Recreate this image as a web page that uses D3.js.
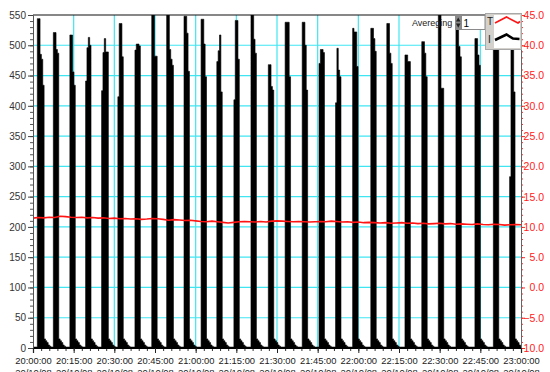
<!DOCTYPE html>
<html>
<head>
<meta charset="utf-8">
<script src="https://cdn.jsdelivr.net/npm/d3@7"></script>
<style>
  html, body { margin: 0; padding: 0; background: #ffffff; }
  svg { display: block; font-family: "Liberation Sans", Arial, sans-serif; }
</style>
</head>
<body>
<svg id="chart" width="550" height="372"></svg>
<script>
// ---- Pump current (I): each cycle's start (minutes after 20:00) and its 30 s samples ----
const cycleStarts = [1.6, 7.5, 13.6, 19.4, 25.3, 31.3, 37.6, 43.8, 49.3, 55.7,
                     62.0, 67.8, 74.1, 80.4, 86.8, 93.0, 99.3, 105.5, 111.6, 117.9,
                     124.6, 130.5, 137.2, 143.4, 149.5, 156.0, 163.0, 169.8, 175.8];
const cycleProfiles = [
  [544, 544, 485, 477, 434],
  [521, 521, 493, 487],
  [517, 517, 456, 434],
  [441, 496, 513, 500],
  [425, 488, 511, 489, 489],
  [415, 536, 536, 481],
  [492, 502, 502, 499],
  [565, 565, 482, 482],
  [565, 565, 493, 477, 467],
  [548, 548, 520, 457],
  [543, 543, 502, 448],
  [473, 491, 517, 423],
  [410, 541, 541, 477],
  [565, 565, 510, 487],
  [468, 468, 432, 426],
  [538, 538, 538, 448],
  [538, 538, 500, 426],
  [470, 493, 493, 488],
  [405, 495, 459, 448],
  [528, 522, 522, 465],
  [528, 528, 511, 490],
  [536, 536, 487, 470],
  [484, 484, 473, 473],
  [506, 506, 487, 448],
  [565, 565, 429, 429],
  [565, 565, 498, 481],
  [511, 511, 484, 467],
  [545, 545, 520, 505],
  [283, 540, 540, 423]
];
const tailProfile = [15, 12, 9, 5, 3];   // run-down after each pumping burst
const idleLevel = 1.5;
const sampleStep = 0.5;                  // minutes between samples

// ---- Temperature (T), one reading every 2 minutes ----
const tempStep = 2;
const tempValues = [
  11.45, 11.55, 11.5, 11.6, 11.55, 11.75, 11.7, 11.6, 11.55, 11.6,
  11.5, 11.55, 11.45, 11.5, 11.4, 11.45, 11.35, 11.4, 11.3, 11.35,
  11.25, 11.3, 11.4, 11.35, 11.25, 11.1, 11.2, 11.15, 11.05, 11.1,
  11.0, 10.9, 10.85, 10.95, 10.85, 10.75, 10.65, 10.75, 10.85, 10.9,
  10.85, 10.8, 10.9, 10.8, 10.95, 11.0, 10.95, 10.9, 10.85, 10.9,
  10.85, 10.8, 10.85, 10.9, 10.85, 10.95, 10.9, 10.8, 10.85, 10.75,
  10.8, 10.7, 10.75, 10.7, 10.65, 10.7, 10.6, 10.65, 10.7, 10.6,
  10.65, 10.55, 10.6, 10.5, 10.55, 10.6, 10.5, 10.55, 10.45, 10.5,
  10.45, 10.4, 10.5, 10.4, 10.35, 10.45, 10.4, 10.3, 10.35, 10.4, 10.35
];

// ---- Axes ----
const leftTicks  = [0, 50, 100, 150, 200, 250, 300, 350, 400, 450, 500, 550];
const rightTicks = [-10, -5, 0, 5, 10, 15, 20, 25, 30, 35, 40, 45];
const timeTickMinutes = [0, 15, 30, 45, 60, 75, 90, 105, 120, 135, 150, 165, 180];
const dateLabel = "20/10/08";

const startTime = new Date(2008, 9, 20, 20, 0, 0);
const atMinute = m => new Date(startTime.getTime() + m * 60000);

const plot = { left: 33, right: 521, top: 15, bottom: 348 };
const svg = d3.select("#chart");

const x = d3.scaleTime().domain([atMinute(0), atMinute(180)]).range([plot.left, plot.right]);
const yI = d3.scaleLinear().domain([0, 550]).range([plot.bottom, plot.top]);
const yT = d3.scaleLinear().domain([-10, 45]).range([plot.bottom, plot.top]);

const gridColor = "#3fe6f2";

// grid
const grid = svg.append("g");
grid.selectAll("line.h").data(leftTicks.filter(v => v > 0 && v < 550)).join("line")
  .attr("x1", plot.left).attr("x2", plot.right)
  .attr("y1", d => yI(d)).attr("y2", d => yI(d))
  .attr("stroke", gridColor).attr("stroke-width", 1.2);
grid.selectAll("line.v").data(timeTickMinutes.filter(m => m > 0 && m < 180)).join("line")
  .attr("y1", plot.top).attr("y2", plot.bottom)
  .attr("x1", d => x(atMinute(d))).attr("x2", d => x(atMinute(d)))
  .attr("stroke", gridColor).attr("stroke-width", 1.2);

// current series assembled from the cycle samples
const current = [{ t: 0, v: idleLevel }];
cycleStarts.forEach((s, i) => {
  current.push({ t: s - 0.01, v: idleLevel });
  cycleProfiles[i].forEach((v, k) => current.push({ t: s + k * sampleStep, v }));
  const afterBar = s + cycleProfiles[i].length * sampleStep;
  tailProfile.forEach((v, k) => current.push({ t: afterBar + k * sampleStep, v }));
  current.push({ t: afterBar + tailProfile.length * sampleStep, v: idleLevel });
});
current.push({ t: 180, v: idleLevel });

svg.append("clipPath").attr("id", "plotClip")
  .append("rect").attr("x", plot.left).attr("y", plot.top)
  .attr("width", plot.right - plot.left).attr("height", plot.bottom - plot.top);

const area = d3.area()
  .x(d => x(atMinute(d.t)))
  .y0(yI(0))
  .y1(d => yI(d.v))
  .curve(d3.curveStepAfter);

svg.append("path").datum(current)
  .attr("clip-path", "url(#plotClip)")
  .attr("d", area)
  .attr("fill", "#000").attr("stroke", "#000").attr("stroke-width", 0.6);

// temperature line
const temp = tempValues.map((v, i) => ({ t: i * tempStep, v }));
svg.append("path").datum(temp)
  .attr("d", d3.line().x(d => x(atMinute(d.t))).y(d => yT(d.v)))
  .attr("fill", "none").attr("stroke", "#ff1414").attr("stroke-width", 1.6);

// frame
svg.append("line").attr("x1", plot.left).attr("x2", plot.right)
  .attr("y1", plot.top).attr("y2", plot.top).attr("stroke", "#111").attr("stroke-width", 1.2);

// left axis
const leftMinor = d3.range(0, 551, 10);
svg.append("g").attr("transform", `translate(${plot.left},0)`)
  .call(d3.axisLeft(yI).tickValues(leftMinor).tickSize(3).tickFormat(""))
  .call(g => g.select(".domain").remove())
  .call(g => g.selectAll("line").attr("stroke", "#555"));
svg.append("g").attr("transform", `translate(${plot.left},0)`)
  .call(d3.axisLeft(yI).tickValues(leftTicks).tickSize(5).tickPadding(2).tickFormat(d3.format("d")))
  .call(g => g.select(".domain").attr("stroke", "#555"))
  .call(g => g.selectAll("line").attr("stroke", "#444"))
  .call(g => g.selectAll("text").attr("fill", "#333").attr("font-size", 10).attr("font-family", "Liberation Sans, Arial, sans-serif"));

// right axis
const rightMinor = d3.range(-10, 46, 1);
svg.append("g").attr("transform", `translate(${plot.right},0)`)
  .call(d3.axisRight(yT).tickValues(rightMinor).tickSize(2).tickFormat(""))
  .call(g => g.select(".domain").remove())
  .call(g => g.selectAll("line").attr("stroke", "#ff2a2a"));
svg.append("g").attr("transform", `translate(${plot.right},0)`)
  .call(d3.axisRight(yT).tickValues(rightTicks).tickSize(4).tickPadding(19).tickFormat(d3.format(".1f")))
  .call(g => g.select(".domain").attr("stroke", "#666"))
  .call(g => g.selectAll("line").attr("stroke", "#ff2a2a"))
  .call(g => g.selectAll("text").attr("fill", "#ff2020").attr("text-anchor", "end")
    .attr("font-size", 10.5).attr("font-family", "Liberation Sans, Arial, sans-serif"));

// bottom axis
const timeMinor = d3.range(0, 181, 3);
svg.append("g").attr("transform", `translate(0,${plot.bottom})`)
  .call(d3.axisBottom(x).tickValues(timeMinor.map(atMinute)).tickSize(3).tickFormat(""))
  .call(g => g.select(".domain").remove())
  .call(g => g.selectAll("line").attr("stroke", "#333"));
const fmt = d3.timeFormat("%H:%M:%S");
svg.append("g").attr("transform", `translate(0,${plot.bottom})`)
  .call(d3.axisBottom(x).tickValues(timeTickMinutes.map(atMinute)).tickSize(5).tickPadding(4).tickFormat(fmt))
  .call(g => g.select(".domain").attr("stroke", "#000").attr("stroke-width", 1.2))
  .call(g => g.selectAll("line").attr("stroke", "#222"))
  .call(g => g.selectAll("text")
    .attr("fill", "#222").attr("font-size", 9.4).attr("font-family", "Liberation Sans, Arial, sans-serif")
    .each(function (d) {
      const t = d3.select(this);
      const label = fmt(d);
      t.text(null);
      t.append("tspan").attr("x", 0).text(label);
      t.append("tspan").attr("x", 0).attr("dy", "1.3em").text(dateLabel);
    }));

// averaging control and series key
const ctl = svg.append("g").attr("font-family", "Liberation Sans, Arial, sans-serif");
ctl.append("text").attr("x", 412).attr("y", 26).attr("font-size", 9).attr("fill", "#222").text("Avereging");
ctl.append("rect").attr("x", 455).attr("y", 15).attr("width", 6.5).attr("height", 15).attr("fill", "#8a8a8a");
ctl.append("path").attr("d", "M456,21.5 L458.2,17.5 L460.5,21.5 Z").attr("fill", "#222");
ctl.append("path").attr("d", "M456,23.5 L458.2,27.8 L460.5,23.5 Z").attr("fill", "#222");
ctl.append("rect").attr("x", 461.5).attr("y", 15.5).attr("width", 23.5).attr("height", 14)
  .attr("fill", "#fff").attr("stroke", "#8a8a8a");
ctl.append("text").attr("x", 463.5).attr("y", 26.5).attr("font-size", 10).attr("fill", "#000").text("1");
ctl.append("rect").attr("x", 485.5).attr("y", 13.5).attr("width", 36).attr("height", 36)
  .attr("fill", "#d4d1cc").attr("stroke", "#a8a8a8");
ctl.append("rect").attr("x", 494).attr("y", 15).attr("width", 26).attr("height", 33).attr("fill", "#fff");
ctl.append("text").attr("x", 487).attr("y", 25).attr("font-size", 10).attr("fill", "#222").text("T");
ctl.append("text").attr("x", 488).attr("y", 43).attr("font-size", 10).attr("fill", "#222").text("I");
ctl.append("path").attr("d", "M495,23 L506.5,17 L518,23 L520,21.5")
  .attr("fill", "none").attr("stroke", "#ff1414").attr("stroke-width", 1.6);
ctl.append("path").attr("d", "M495,40 L506.5,34.5 L513,38.5 L519.5,39")
  .attr("fill", "none").attr("stroke", "#000").attr("stroke-width", 2.6);
</script>
</body>
</html>
